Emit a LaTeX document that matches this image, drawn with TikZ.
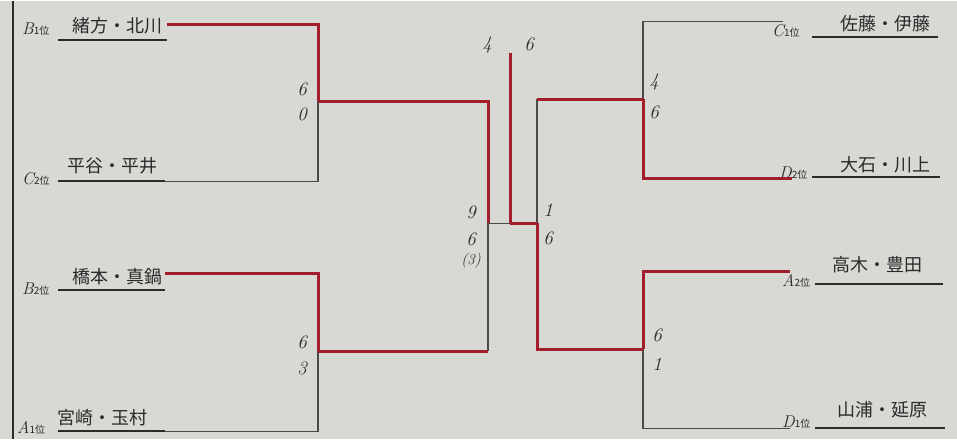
\documentclass[tikz,border=0pt]{standalone}
\usepackage{fontspec}
\newfontfamily\jpfont{Noto Sans CJK JP}
\usetikzlibrary{positioning, calc}

\definecolor{paper}{HTML}{D8D9D4}
\definecolor{inkred}{HTML}{A31D2C}
\definecolor{ink}{HTML}{2A2A2A}

\begin{document}
\begin{tikzpicture}[x=1pt, y=-1pt, font=\jpfont]
    \tikzstyle{pair} = [inner sep=0pt, text=ink, font=\jpfont\fontsize{18}{18}\selectfont]
    \tikzstyle{seed} = [inner sep=0pt, anchor=base west, text=ink, font=\itshape\fontsize{17}{17}\selectfont]
    \tikzstyle{score} = [inner sep=0pt, text=ink, font=\itshape\fontsize{19}{19}\selectfont]
    \tikzstyle{won} = [draw=inkred, line width=3pt]
    \tikzstyle{lost} = [draw=ink!85, line width=1.1pt]
    \tikzstyle{rule} = [draw=ink, line width=1.8pt]

    % Paper
    \fill[paper] (0,0) rectangle (957,438);
    \draw[ink, line width=2.5pt] (13,0) -- (13,438);

    % Nodes
    \node[seed] (sB1) at (22,33) {B{\jpfont\fontsize{10}{10}\selectfont 1位}};
    \node[seed] (sC2) at (22,183) {C{\jpfont\fontsize{10}{10}\selectfont 2位}};
    \node[seed] (sB2) at (22,293) {B{\jpfont\fontsize{10}{10}\selectfont 2位}};
    \node[seed] (sA1) at (17,432) {A{\jpfont\fontsize{10}{10}\selectfont 1位}};
    \node[seed] (sC1) at (772,35) {C{\jpfont\fontsize{10}{10}\selectfont 1位}};
    \node[seed] (sD2) at (779,177) {D{\jpfont\fontsize{10}{10}\selectfont 2位}};
    \node[seed] (sA2) at (782,285) {A{\jpfont\fontsize{10}{10}\selectfont 2位}};
    \node[seed] (sD1) at (782,426) {D{\jpfont\fontsize{10}{10}\selectfont 1位}};

    \node[pair] (ogata) at (117,24) {緒方・北川};
    \node[pair] (hiratani) at (112,165) {平谷・平井};
    \node[pair] (hashimoto) at (117,275) {橋本・真鍋};
    \node[pair] (miyazaki) at (102,416) {宮崎・玉村};
    \node[pair] (sato) at (885,22) {佐藤・伊藤};
    \node[pair] (oishi) at (885,163) {大石・川上};
    \node[pair] (takagi) at (877,263) {高木・豊田};
    \node[pair] (yamaura) at (882,408) {山浦・延原};

    \draw[rule] (58,39) -- (167,39);
    \draw[rule] (58,180) -- (165,180);
    \draw[rule] (58,289) -- (165,289);
    \draw[rule] (58,430) -- (165,430);
    \draw[rule] (812,36) -- (938,36);
    \draw[rule] (812,176) -- (940,176);
    \draw[rule] (815,283) -- (943,283);
    \draw[rule] (815,427) -- (945,427);

    \coordinate (b1) at (167,23);
    \coordinate (c2) at (165,180);
    \coordinate (b2) at (165,272);
    \coordinate (a1) at (165,430);
    \coordinate (c1) at (783,20);
    \coordinate (d2) at (792,177);
    \coordinate (a2) at (790,270);
    \coordinate (d1) at (790,427);
    \coordinate (m1) at (318,100);
    \coordinate (m2) at (318,350);
    \coordinate (m3) at (643,98);
    \coordinate (m4) at (643,348);
    \coordinate (s1) at (488,222);
    \coordinate (s2) at (537,222);
    \coordinate (f) at (510,222);
    \coordinate (champ) at (510,52);

    % Scores
    \node[score] (r1a) at (302,88) {6};
    \node[score] (r1b) at (302,113) {0};
    \node[score] (r2a) at (302,341) {6};
    \node[score] (r2b) at (302,367) {3};
    \node[score] (r3a) at (654,81) {4};
    \node[score] (r3b) at (654,111) {6};
    \node[score] (r4a) at (657,334) {6};
    \node[score] (r4b) at (657,363) {1};
    \node[score] (sfa) at (471,211) {9};
    \node[score] (sfb) at (471,238) {6};
    \node[score] (sfc) at (471,260) {\fontsize{15}{15}\selectfont(3)};
    \node[score] (sga) at (548,209) {1};
    \node[score] (sgb) at (548,237) {6};
    \node[score] (fa) at (487,44) {4};
    \node[score] (fb) at (529,43) {6};

    % Connections
    \draw[lost] (c2) -| (m1);
    \draw[lost] (a1) -| (m2);
    \draw[lost] (m2 -| s1) -- (s1);
    \draw[lost] (s1) -- (f);
    \draw[lost] (m3 -| s2) -- (s2);
    \draw[lost] (m3) |- (c1);
    \draw[lost] (m4) |- (d1);
    \draw[won] (b1) -| (m1);
    \draw[won] (m1) -| (s1);
    \draw[won] (b2) -| (m2);
    \draw[won] (m2) -- (m2 -| s1);
    \draw[won] (f) -- (champ);
    \draw[won] (f) -- (s2);
    \draw[won] (m3) -- (m3 -| s2);
    \draw[won] (s2) |- (m4);
    \draw[won] (m3) |- (d2);
    \draw[won] (m4) |- (a2);
\end{tikzpicture}
\end{document}
